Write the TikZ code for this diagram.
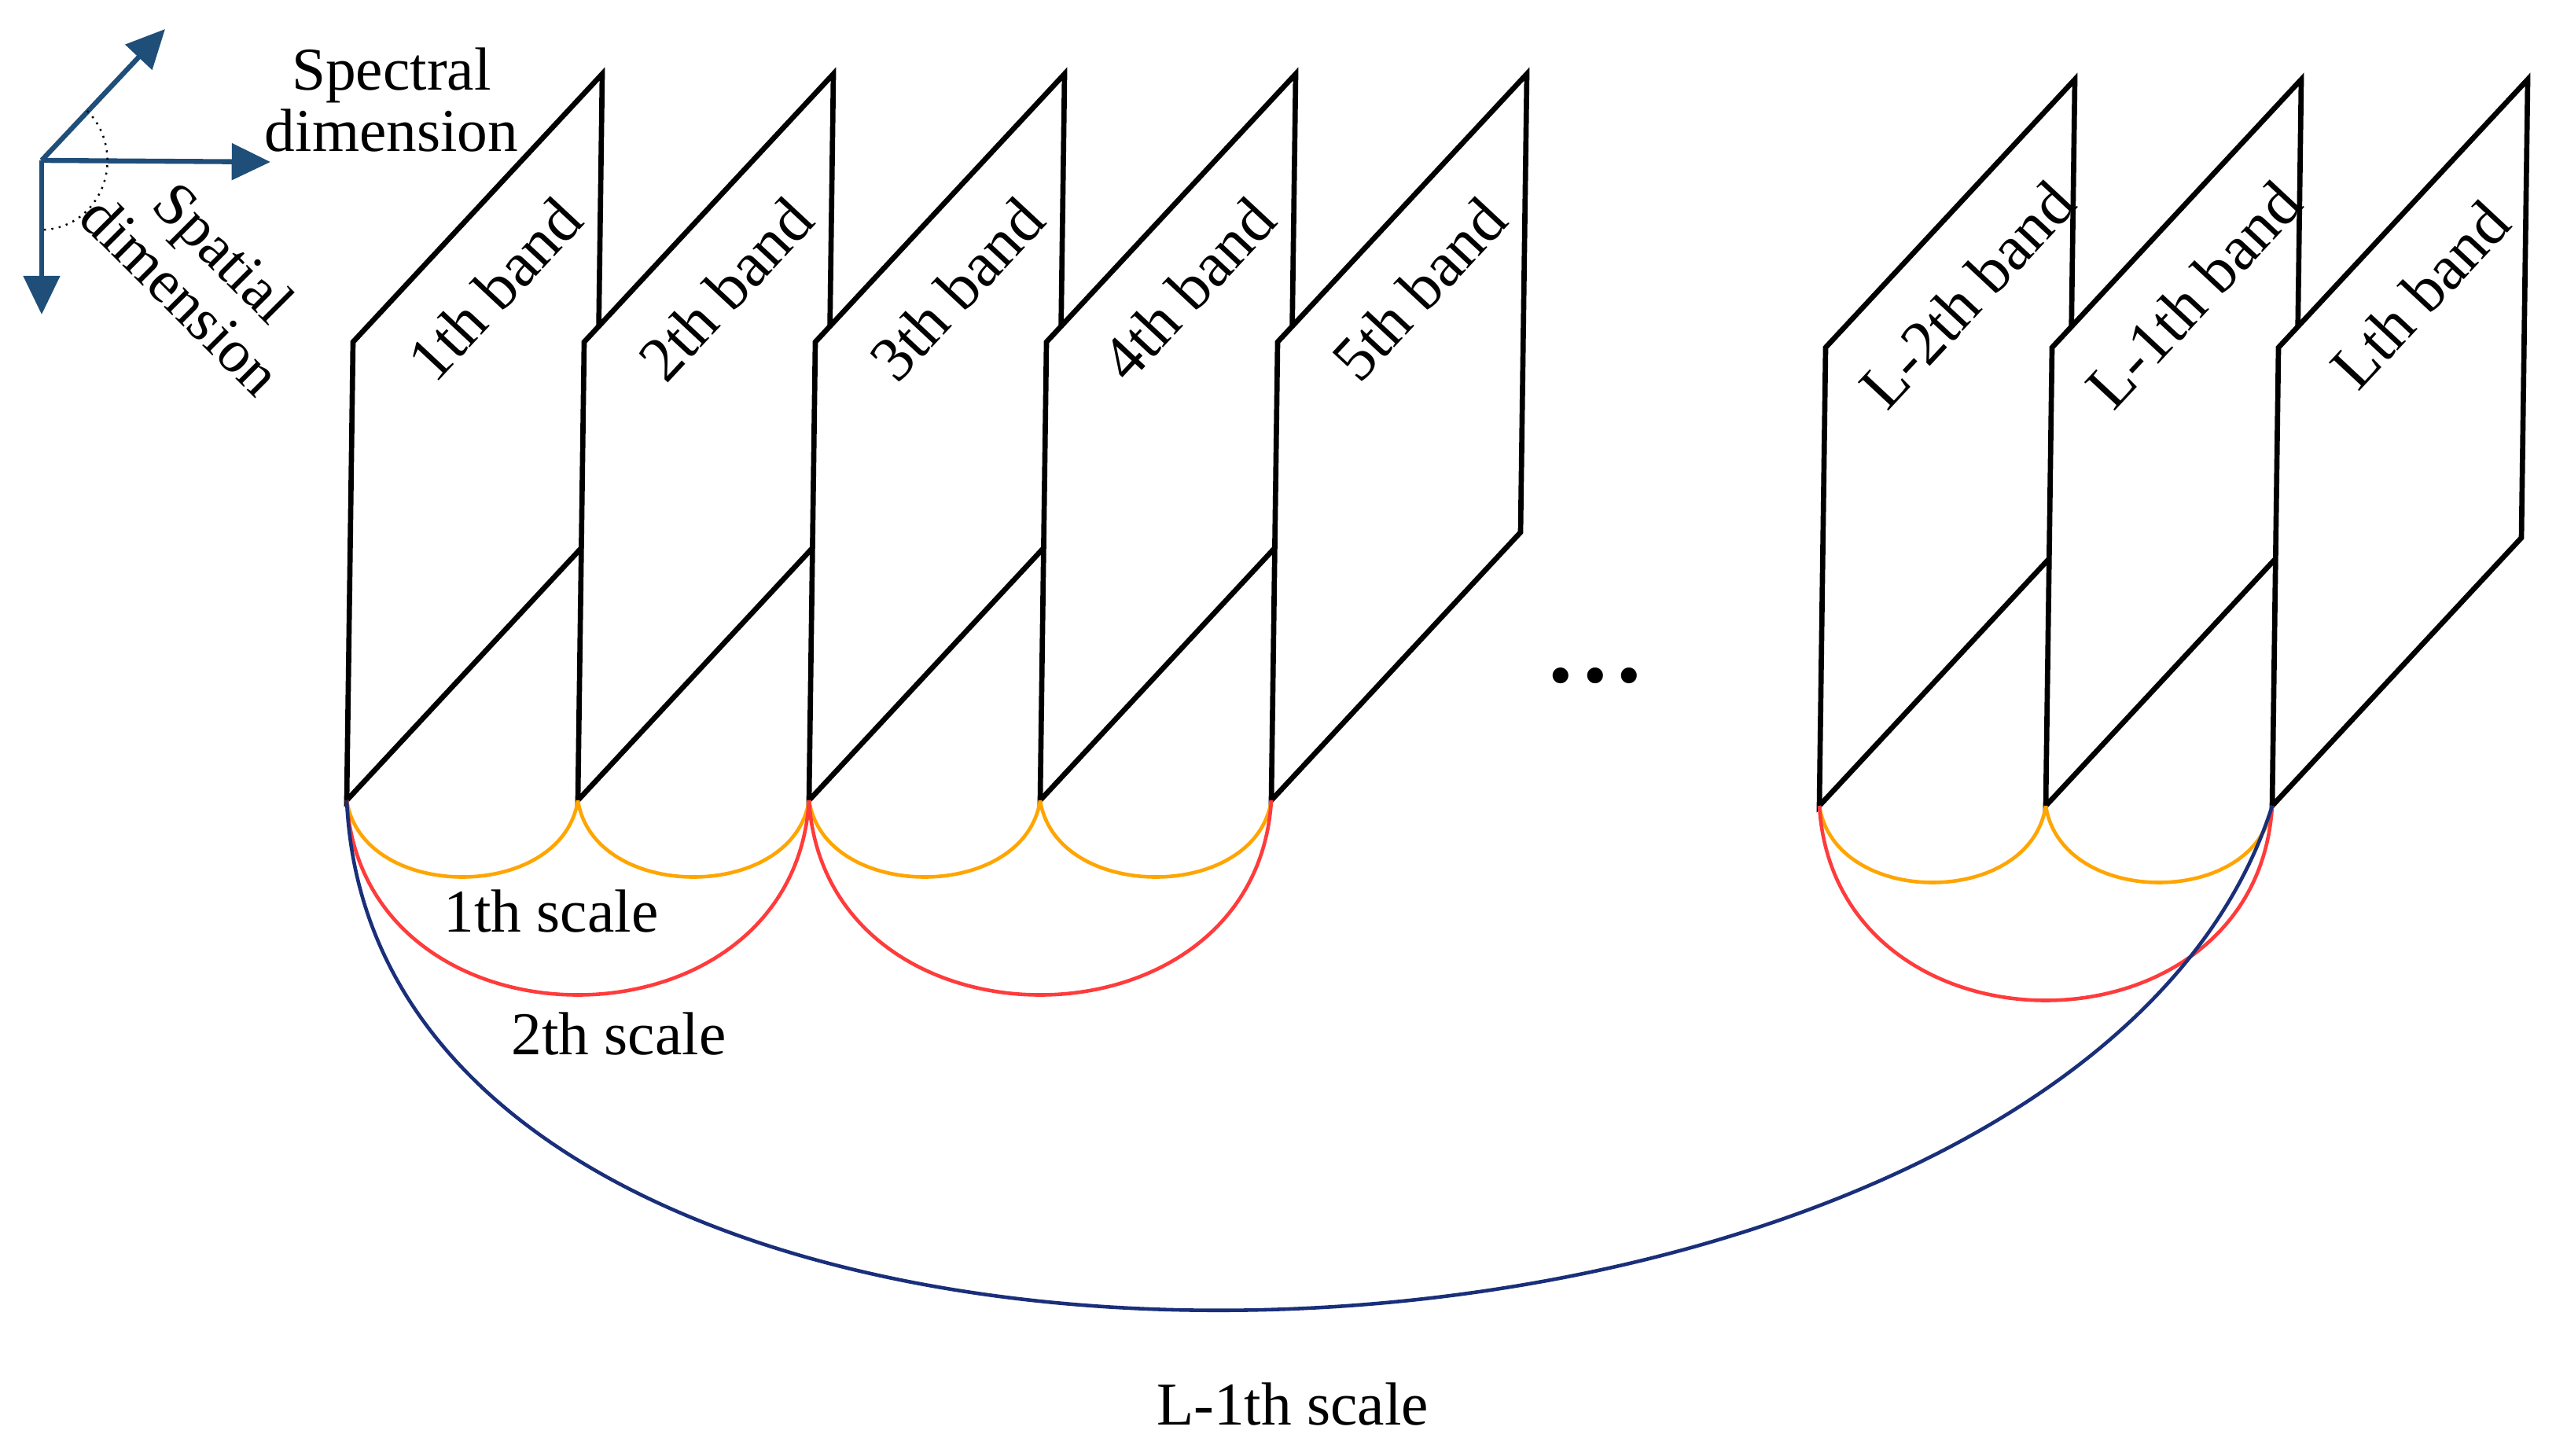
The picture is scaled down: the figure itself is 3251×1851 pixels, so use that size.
\documentclass[tikz,border=0pt]{standalone}
\usepackage{fontspec}
\setmainfont{Liberation Serif}
\usetikzlibrary{arrows.meta,calc}
\definecolor{axblue}{HTML}{1F4E79}
\definecolor{orng}{HTML}{FFA500}
\definecolor{rd}{HTML}{FF3B3B}
\definecolor{nvy}{HTML}{1A2F7A}
\tikzset{
 bandbox/.style={draw=black,fill=white,line width=1.9pt,line join=miter},
 bandlabel/.style={rotate=47,font=\fontsize{23}{26}\selectfont},
 lbl/.style={font=\fontsize{22}{26}\selectfont},
 ax/.style={draw=axblue,line width=1.8pt,-{Triangle[length=14pt,width=13pt]}},
 sc1/.style={draw=orng,line width=1.3pt},
 sc2/.style={draw=rd,line width=1.3pt},
 sc3/.style={draw=nvy,line width=1.3pt}
}
\begin{document}
\begin{tikzpicture}[x=0.01cm,y=-0.01cm]
\useasboundingbox (0,0) rectangle (3251,1851);
% axes
\coordinate (o) at (53,204);
\coordinate (ur) at (210,37);
\coordinate (rt) at (344,206);
\coordinate (dn) at (53,400);
\draw[ax] (o) -- (ur);
\draw[ax] (o) -- (rt);
\draw[ax] (o) -- (dn);
\draw[dotted,line width=0.7pt] (o) ++(58,-63) arc[start angle=-46,end angle=90,x radius=84,y radius=88];
\node[lbl,align=center] (spec) at (498,127) {Spectral\\[-4pt]dimension};
\node[lbl,align=center,rotate=-45] (spat) at (258,348) {Spatial\\[-4pt]dimension};
% bands
\foreach \x/\t [count=\i] in {441/1th,735/2th,1029/3th,1323/4th,1617/5th,2314/L-2th,2602/L-1th,2890/Lth}{
  \ifnum\i>5 \def\yy{1025}\else\def\yy{1018}\fi
  \coordinate (b\i) at (\x,\yy);
  \draw[bandbox] (b\i) -- ++(8,-583) -- ++(317,-341) -- ++(-8,583) -- cycle;
  \node[bandlabel] (t\i) at ($(b\i)+(188,-650)$) {\t\ band};
}
\node[font=\fontsize{24}{24}\selectfont] (dots) at (2029,868) {•\,•\,•};
% scales
\foreach \a/\b in {1/2,2/3,3/4,4/5,6/7,7/8}{
  \draw[sc1] (b\a) .. controls ($(b\a)+(20,130)$) and ($(b\b)+(-20,130)$) .. (b\b);
}
\foreach \a/\b in {1/3,3/5,6/8}{
  \draw[sc2] (b\a) .. controls ($(b\a)+(20,330)$) and ($(b\b)+(-20,330)$) .. (b\b);
}
\draw[sc3] (b1) .. controls ($(b1)+(40,900)$) and ($(b8)+(-260,820)$) .. (b8);
\node[lbl] (s1) at (701,1159) {1th scale};
\node[lbl] (s2) at (787,1315) {2th scale};
\node[lbl] (s3) at (1644,1786) {L-1th scale};
\end{tikzpicture}
\end{document}
